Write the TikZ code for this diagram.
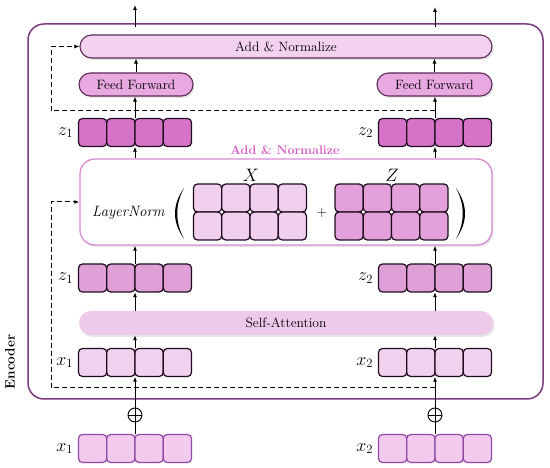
\RequirePackage{fix-cm}
\documentclass[tikz,border=0pt]{standalone}
\usetikzlibrary{shadows,arrows.meta,positioning}
\definecolor{encC}{HTML}{7C3B7C}
\definecolor{darkC}{HTML}{5E2A58}
\definecolor{addF}{HTML}{F2D2EE}
\definecolor{ffF}{HTML}{E8A9E0}
\definecolor{ztF}{HTML}{D772C9}
\definecolor{zmF}{HTML}{DFA0D8}
\definecolor{xmF}{HTML}{F1CFEE}
\definecolor{zzF}{HTML}{E2A1DA}
\definecolor{saF}{HTML}{EDCAEA}
\definecolor{xiF}{HTML}{F0D2EE}
\definecolor{xbF}{HTML}{F2CBEF}
\definecolor{xbD}{HTML}{8E4AA6}
\definecolor{lnD}{HTML}{D98CD2}
\definecolor{pinkT}{HTML}{D35BC3}
\definecolor{cellD}{HTML}{1E0C1C}
\newcommand\cellrow[5]{%
  \foreach \i in {0,1,2,3}{\node[cellbase,#4] (#1-\i) at ({#2+(\i-1.5)*28.25},#3) {};}
  \node[rowbox] (#1) at (#2,#3) {};
  \node[lbl,left=5pt of #1.west] (#1-l) {$#5$};}
\begin{document}
\begin{tikzpicture}[x=1pt,y=-1pt,
  cellbase/.style={draw=cellD,line width=1.2pt,rounded corners=4pt,minimum width=28.25pt,minimum height=28pt,inner sep=0pt},
  rowbox/.style={minimum width=113pt,minimum height=28pt,inner sep=0pt},
  lbl/.style={font=\fontsize{18}{20}\selectfont,inner sep=0pt},
  arr/.style={-{Latex[length=5pt,width=4pt]},line width=0.9pt},
  dsh/.style={dashed,dash pattern=on 5pt off 3pt,line width=1pt},
  shd/.style={drop shadow={opacity=0.2,shadow xshift=1.5pt,shadow yshift=-2pt}},
  bar/.style={rounded corners=11.5pt,inner sep=0pt,font=\fontsize{13.5}{15}\selectfont},
  ]
\useasboundingbox (0,0) rectangle (550,468);
% encoder frame
\node[draw=encC,line width=1.5pt,rounded corners=16pt,minimum width=515pt,minimum height=375pt,inner sep=0pt] (enc) at (285.5,211.5) {};
\node[rotate=90,font=\fontsize{13.5}{15}\selectfont\bfseries] (enclbl) at (10,362) {Encoder};
% bars
\node[bar,shd,draw=darkC,line width=1.1pt,fill=addF,minimum width=412pt,minimum height=23pt] (add) at (286,46.5) {Add \& Normalize};
\node[bar,shd,draw=darkC,line width=1.1pt,fill=ffF,minimum width=114pt,minimum height=23pt] (ff1) at (136,84.5) {Feed Forward};
\node[bar,shd,draw=darkC,line width=1.1pt,fill=ffF,minimum width=115pt,minimum height=23pt] (ff2) at (434.5,84.5) {Feed Forward};
\node[bar,shd,fill=saF,minimum width=414pt,minimum height=24pt,rounded corners=12pt] (sa) at (286,323) {Self-Attention};
% LayerNorm box
\node[shd,draw=lnD,line width=1.3pt,fill=white,rounded corners=15pt,minimum width=412pt,minimum height=86pt,inner sep=0pt] (ln) at (286,202) {};
\node[text=pinkT,font=\fontsize{12.5}{14}\selectfont\bfseries,inner sep=0pt] (lntitle) at (285,150) {Add \& Normalize};
\node[font=\fontsize{15}{17}\selectfont,inner sep=0pt] (lnname) at (129,213) {$\mathit{LayerNorm}$};
\fill (184,188) .. controls (172,205) and (172,222) .. (184,239) .. controls (175,222) and (175,205) .. (184,188);
\fill (456,188) .. controls (468,205) and (468,222) .. (456,239) .. controls (465,222) and (465,205) .. (456,188);
% matrices
\foreach \r/\yy in {0/198,1/226}{
  \foreach \i in {0,1,2,3}{
    \node[cellbase,fill=xmF] (X-\r-\i) at ({250+(\i-1.5)*28.25},\yy) {};
    \node[cellbase,fill=zzF] (Z-\r-\i) at ({391.5+(\i-1.5)*28.25},\yy) {};
  }}
\foreach \k in {0,1,2}{
  \node[circle,draw=cellD,fill=white,line width=0.6pt,minimum size=4pt,inner sep=0pt] (jx\k) at ({250+(\k-1)*28.25},212) {};
  \node[circle,draw=cellD,fill=white,line width=0.6pt,minimum size=4pt,inner sep=0pt] (jz\k) at ({391.5+(\k-1)*28.25},212) {};}
\node[lbl] (Xl) at (251,175) {$X$};
\node[lbl] (Zl) at (392,175) {$Z$};
\node[font=\fontsize{14}{16}\selectfont,inner sep=0pt] (plus) at (322,213) {$+$};
% rows
\cellrow{zt1}{135}{132.5}{fill=ztF}{z_1}
\cellrow{zt2}{435}{132.5}{fill=ztF}{z_2}
\cellrow{zm1}{135}{278}{fill=zmF}{z_1}
\cellrow{zm2}{435}{278}{fill=zmF}{z_2}
\cellrow{xi1}{135}{362.5}{fill=xiF}{x_1}
\cellrow{xi2}{435}{362.5}{fill=xiF}{x_2}
\cellrow{xb1}{135}{448.5}{fill=xbF,draw=xbD}{x_1}
\cellrow{xb2}{435}{448.5}{fill=xbF,draw=xbD}{x_2}
% oplus
\foreach \n/\xx in {op1/135,op2/435}{
  \node[circle,draw,line width=0.9pt,minimum size=14pt,inner sep=0pt,
    path picture={\draw[line width=0.9pt] (path picture bounding box.north) -- (path picture bounding box.south) (path picture bounding box.west) -- (path picture bounding box.east);}] (\n) at (\xx,415) {};}
% outputs
\coordinate (out1) at (135,5);
\coordinate (out2) at (435,7);
\coordinate (st1) at (135,27);
\coordinate (st2) at (435,27);
% arrows
\foreach \c/\f/\zt/\zm/\xi/\xb/\op/\st/\ou in {1/ff1/zt1/zm1/xi1/xb1/op1/st1/out1, 2/ff2/zt2/zm2/xi2/xb2/op2/st2/out2}{
  \draw[arr] (\st) -- (\ou);
  \draw[arr] (\f.north) -- (\f.north |- add.south);
  \draw[arr] (\zt.north) -- (\zt.north |- \f.south);
  \draw[arr] (\zt.south |- ln.north) -- (\zt.south);
  \draw[arr] (\zm.north) -- (\zm.north |- ln.south);
  \draw[arr] (\zm.south |- sa.north) -- (\zm.south);
  \draw[arr] (\xi.north) -- (\xi.north |- sa.south);
  \draw[arr] (\op.north) -- (\xi.south);
  \draw[line width=0.9pt] (\xb.north) -- (\op.south);
}
% residual dashed
\coordinate (dl1) at (51,388);
\coordinate (dl2) at (51,111);
\draw[dsh] (xi2.south |- dl1) -- (dl1);
\draw[dsh,-{Latex[length=5pt,width=4pt]}] (dl1) |- (ln.west);
\draw[dsh] (zt2.north |- dl2) -- (dl2);
\draw[dsh,-{Latex[length=5pt,width=4pt]}] (dl2) |- (add.west);
\end{tikzpicture}
\end{document}
